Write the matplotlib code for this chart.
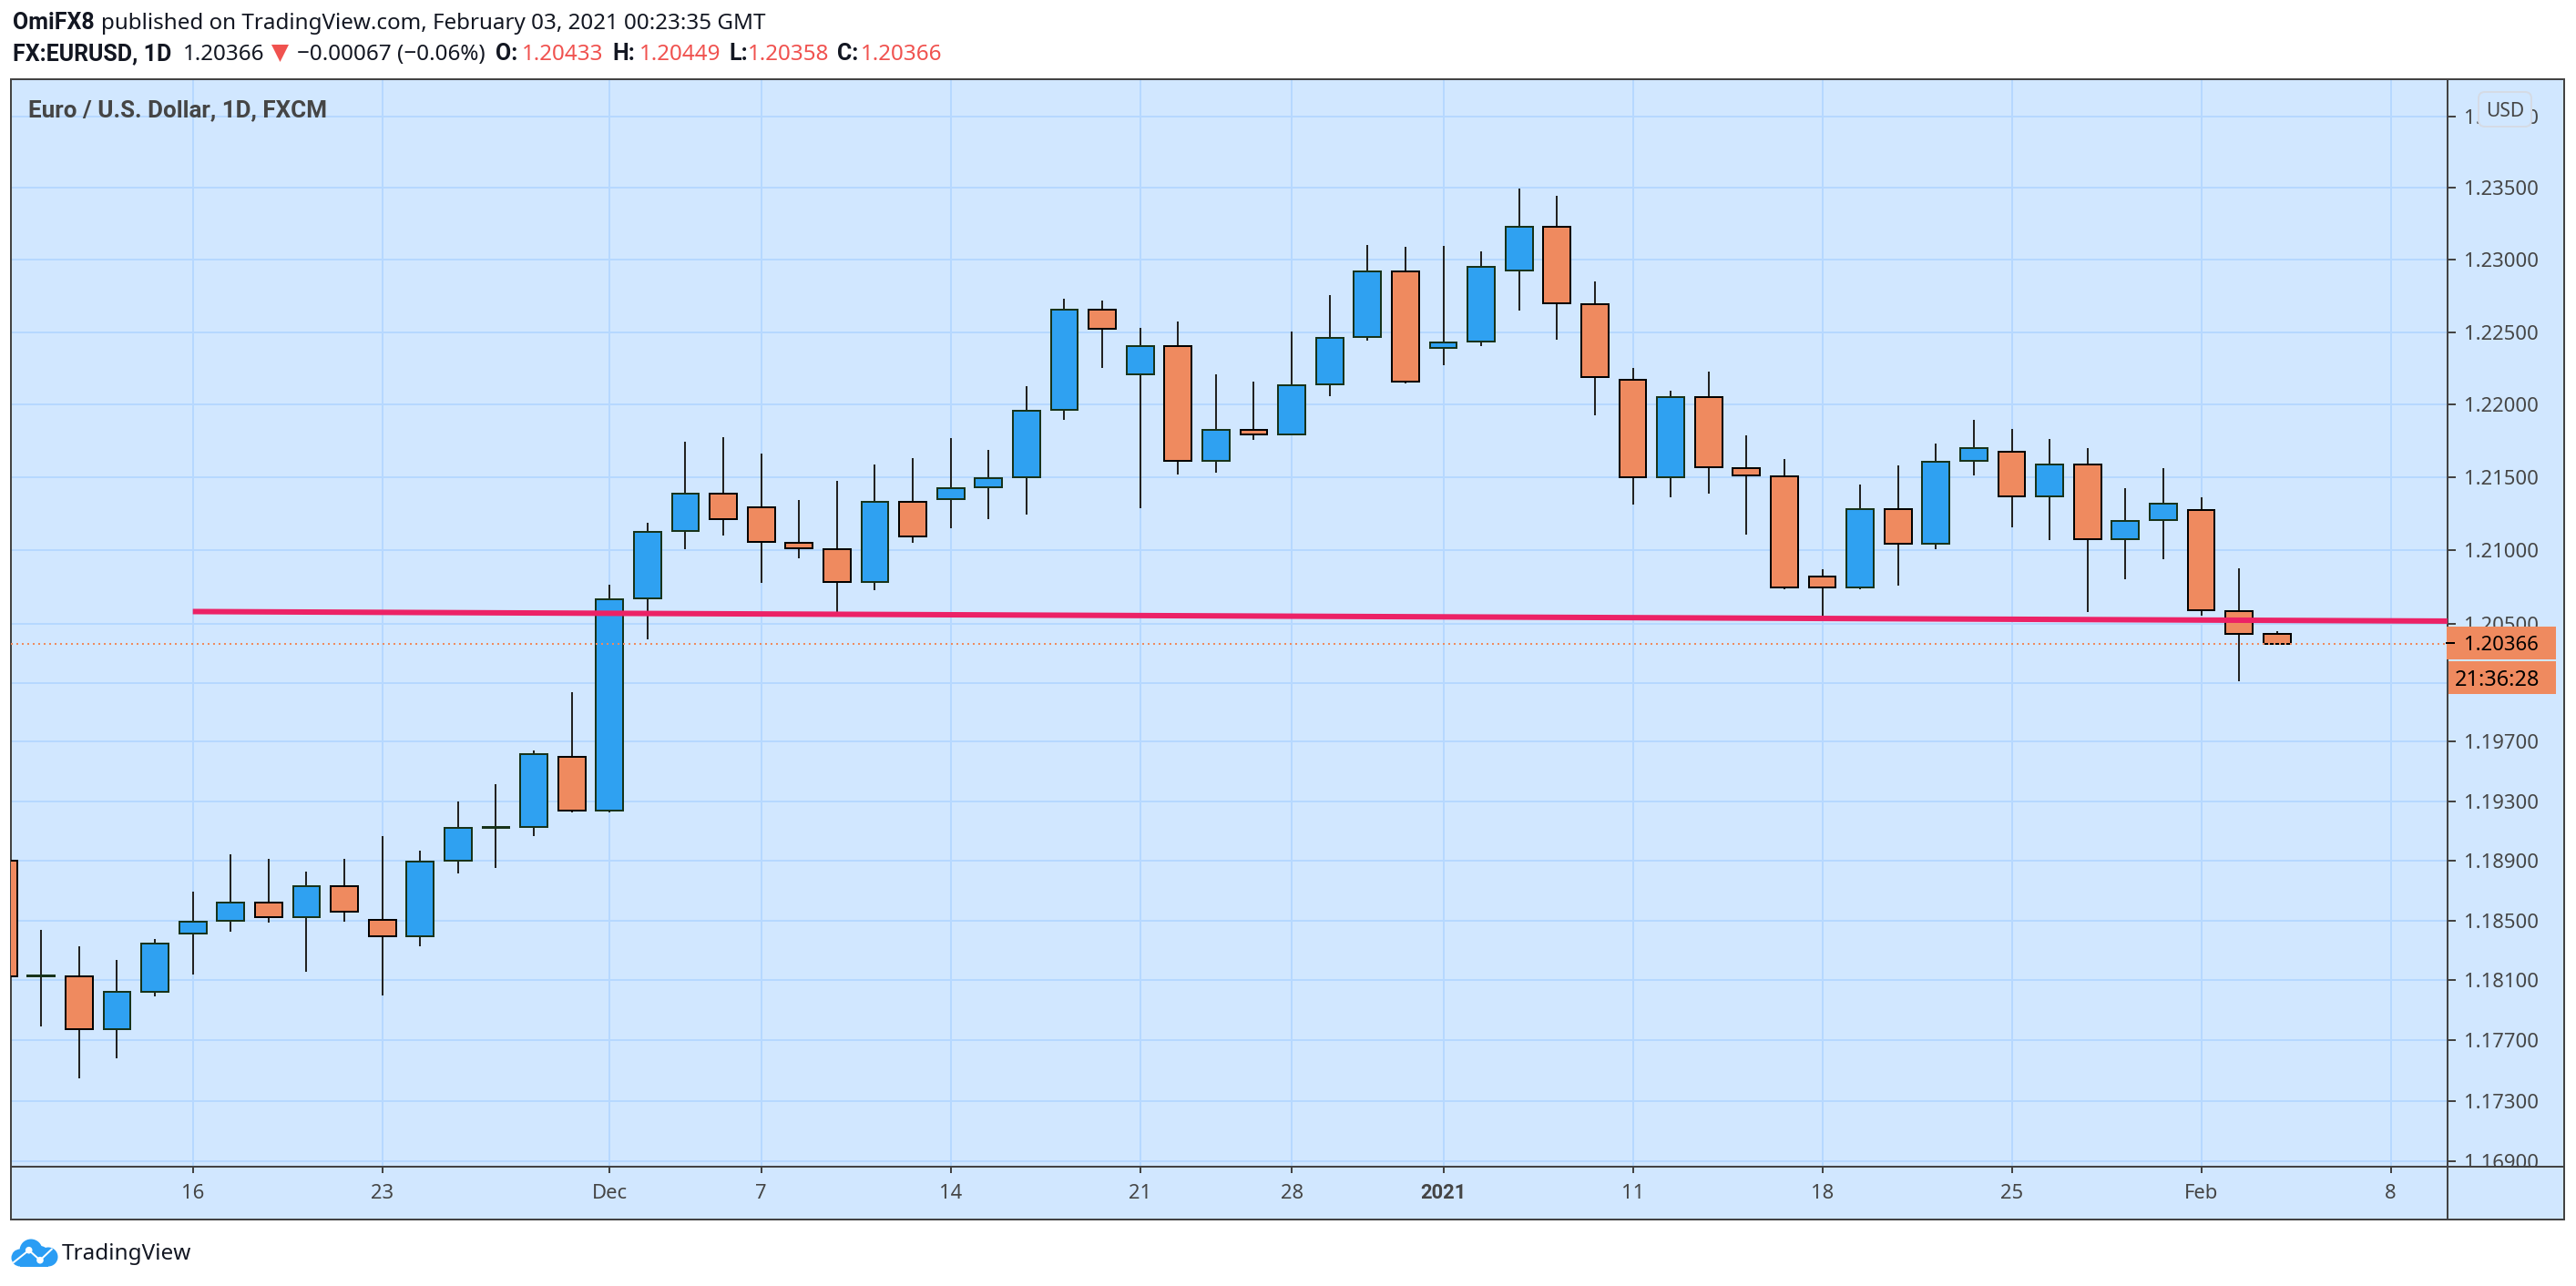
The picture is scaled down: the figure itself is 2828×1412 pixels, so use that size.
import numpy as np
import matplotlib
matplotlib.use("Agg")
import matplotlib.pyplot as plt
from matplotlib.patches import Rectangle, Polygon, Circle, FancyBboxPatch
from matplotlib.lines import Line2D
from matplotlib.transforms import Affine2D

plt.rcParams["font.family"] = ["Noto Sans", "DejaVu Sans"]

# ---------------------------
# Data
# ---------------------------
bar_index = np.arange(-5, 56)

opens = [1.18900, 1.18127, 1.18127, 1.17775, 1.18025, 1.18411, 1.18496, 1.18616, 1.18520, 1.18726,
         1.18505, 1.18392, 1.18900, 1.19122, 1.19124, 1.19601, 1.19235, 1.20671, 1.21131, 1.21390,
         1.21297, 1.21054, 1.21010, 1.20782, 1.21334, 1.21349, 1.21430, 1.21498, 1.21961, 1.22656,
         1.22208, 1.22404, 1.21613, 1.21827, 1.21794, 1.22139, 1.22464, 1.22922, 1.22390, 1.22434,
         1.22924, 1.23232, 1.22695, 1.22172, 1.21500, 1.22053, 1.21564, 1.21508, 1.20824, 1.20746,
         1.21284, 1.21044, 1.21611, 1.21677, 1.21368, 1.21590, 1.21077, 1.21206, 1.21278, 1.20588,
         1.20433]
highs = [1.18900, 1.18437, 1.18328, 1.18237, 1.18376, 1.18693, 1.18943, 1.18912, 1.18827, 1.18912,
         1.19066, 1.18967, 1.19298, 1.19414, 1.19642, 1.20036, 1.20766, 1.21189, 1.21744, 1.21775,
         1.21663, 1.21345, 1.21475, 1.21588, 1.21631, 1.21769, 1.21688, 1.22127, 1.22730, 1.22718,
         1.22528, 1.22573, 1.22208, 1.22158, 1.22503, 1.22756, 1.23103, 1.23090, 1.23097, 1.23059,
         1.23496, 1.23445, 1.22850, 1.22252, 1.22095, 1.22227, 1.21788, 1.21625, 1.20870, 1.21450,
         1.21581, 1.21732, 1.21894, 1.21832, 1.21763, 1.21700, 1.21425, 1.21563, 1.21363, 1.20880,
         1.20449]
lows = [1.18127, 1.17793, 1.17449, 1.17582, 1.17993, 1.18139, 1.18425, 1.18485, 1.18157, 1.18491,
        1.17999, 1.18328, 1.18814, 1.18851, 1.19065, 1.19224, 1.19224, 1.20394, 1.21008, 1.21103,
        1.20779, 1.20946, 1.20574, 1.20729, 1.21052, 1.21151, 1.21214, 1.21245, 1.21894, 1.22252,
        1.21288, 1.21519, 1.21531, 1.21757, 1.21794, 1.22057, 1.22440, 1.22145, 1.22271, 1.22403,
        1.22648, 1.22446, 1.21925, 1.21313, 1.21363, 1.21388, 1.21108, 1.20737, 1.20549, 1.20737,
        1.20760, 1.21008, 1.21513, 1.21158, 1.21070, 1.20579, 1.20803, 1.20940, 1.20555, 1.20110,
        1.20358]
closes = [1.18127, 1.18130, 1.17775, 1.18025, 1.18347, 1.18493, 1.18616, 1.18520, 1.18726, 1.18557,
          1.18392, 1.18896, 1.19117, 1.19124, 1.19619, 1.19235, 1.20669, 1.21128, 1.21390, 1.21212,
          1.21058, 1.21012, 1.20782, 1.21334, 1.21093, 1.21427, 1.21496, 1.21959, 1.22656, 1.22520,
          1.22404, 1.21613, 1.21827, 1.21792, 1.22134, 1.22461, 1.22922, 1.22158, 1.22430, 1.22953,
          1.23232, 1.22697, 1.22187, 1.21500, 1.22053, 1.21569, 1.21511, 1.20746, 1.20746, 1.21284,
          1.21044, 1.21608, 1.21702, 1.21368, 1.21590, 1.21077, 1.21203, 1.21320, 1.20590, 1.20429,
          1.20366]

date_ticks = [0, 5, 11, 15, 20, 25, 29, 33, 38, 43, 48, 53, 58]
date_labels = ["16", "23", "Dec", "7", "14", "21", "28", "2021", "11", "18", "25", "Feb", "8"]

price_ticks = [1.24, 1.235, 1.23, 1.225, 1.22, 1.215, 1.21, 1.205, 1.201,
               1.197, 1.193, 1.189, 1.185, 1.181, 1.177, 1.173, 1.169]

trend_x = [0, 59.5]
trend_y = [1.20583, 1.20518]
last_price = 1.20366

# ---------------------------
# Colours
# ---------------------------
PANEL = "#d1e7ff"
GRID = "#b6d8ff"
BORDER = "#434343"
UP = "#2fa1f1"
UP_EDGE = "#17331a"
DOWN = "#ef8a5f"
DOWN_EDGE = "#000000"
WICK = "#222222"
TREND = "#ec2266"
INK = "#131722"
MUTED = "#454545"
RED = "#f0524f"

W, H = 2828, 1412
PX = 0.72  # points per pixel at dpi 100
HEAD = 24.2 * PX
HEAD_BOLD = 25 * PX
BOLD_FONT = ["Roboto", "DejaVu Sans"]

fig = plt.figure(figsize=(W / 100, H / 100), dpi=100, facecolor="white")
px = Affine2D().scale(1, -1).translate(0, H)  # pixel coords, y down


def pixel_axes(left, top, right, bottom, **kw):
    return fig.add_axes([left / W, 1 - bottom / H, (right - left) / W, (bottom - top) / H], **kw)


def label(x, y, s, size, color=INK, bold=False, ha="left", va="baseline", z=6):
    fig.text(x, y, s, transform=px, fontsize=size, color=color,
             fontweight="bold" if bold else "normal",
             family=BOLD_FONT if bold else ["Noto Sans", "DejaVu Sans"],
             ha=ha, va=va, zorder=z)


# outer panel
fig.add_artist(Rectangle((12.3, 87.3), 2815 - 12.3, 1339 - 87.3, transform=px, facecolor=PANEL,
                         edgecolor=BORDER, linewidth=2 * PX, zorder=-1))

# ---------------------------
# Price pane
# ---------------------------
ax = pixel_axes(12.3, 87.3, 2686.7, 1280.7, zorder=1)
ax.set_facecolor(PANEL)
ax.set_yscale("log")
ax.set_xlim(-4.793, 59.495)
ax.set_ylim(1.16866, 1.24258)

ax.set_yticks(price_ticks)
ax.set_yticklabels(["%.5f" % p for p in price_ticks])
ax.minorticks_off()
ax.yaxis.tick_right()
ax.tick_params(axis="y", length=9 * PX, width=2 * PX, color=BORDER, pad=9 * PX,
               labelsize=22 * PX, labelcolor=MUTED)
ax.set_xticks(date_ticks)
ax.tick_params(axis="x", length=0, labelbottom=False)
ax.grid(True, color=GRID, linewidth=2 * PX)
ax.set_axisbelow(True)
for spine in ax.spines.values():
    spine.set_color(BORDER)
    spine.set_linewidth(2 * PX)

# candles
for i, o, h, l, c in zip(bar_index, opens, highs, lows, closes):
    up = c > o
    ax.vlines(i, l, h, color=WICK, linewidth=2 * PX, zorder=3)
    ax.bar(i, abs(c - o), bottom=min(o, c), width=0.72, color=UP if up else DOWN,
           edgecolor=UP_EDGE if up else DOWN_EDGE, linewidth=2 * PX, zorder=4)

ax.axhline(last_price, color=DOWN, linewidth=2 * PX, linestyle=(0, (1, 2)), zorder=5)
ax.plot(trend_x, trend_y, color=TREND, linewidth=6 * PX, solid_capstyle="butt", zorder=6)

# ---------------------------
# Time axis strip
# ---------------------------
ax_time = pixel_axes(12.3, 1280.7, 2686.7, 1339, zorder=3)
ax_time.set_facecolor(PANEL)
ax_time.set_xlim(ax.get_xlim())
ax_time.set_yticks([])
ax_time.set_xticks(date_ticks)
ax_time.set_xticklabels(date_labels)
ax_time.tick_params(axis="x", top=True, bottom=False, labeltop=True, labelbottom=False,
                    direction="in", length=7 * PX, width=2 * PX, color=BORDER,
                    pad=-40 * PX, labelsize=22 * PX, labelcolor=MUTED)
for t in ax_time.get_xticklabels():
    if t.get_text() == "2021":
        t.set_fontweight("bold")
        t.set_family(BOLD_FONT)
for spine in ax_time.spines.values():
    spine.set_color(BORDER)
    spine.set_linewidth(2 * PX)

fig.add_artist(Rectangle((2686.7, 1280.7), 2815 - 2686.7, 1339 - 1280.7, transform=px,
                         facecolor=PANEL, edgecolor=BORDER, linewidth=2 * PX, zorder=3))

# ---------------------------
# Price scale overlays
# ---------------------------
fig.add_artist(Rectangle((2685.7, 688), 120.3, 36, transform=px, facecolor=DOWN,
                         edgecolor="none", zorder=4))
fig.add_artist(Rectangle((2688, 726), 118, 36, transform=px, facecolor=DOWN,
                         edgecolor="none", zorder=4))
fig.add_artist(Line2D([2686, 2694], [706, 706], transform=px, color="black", linewidth=2 * PX, zorder=5))
label(2746, 706, "1.20366", 22 * PX, color="black", ha="center", va="center_baseline")
label(2742, 744, "21:36:28", 23.5 * PX, color="black", ha="center", va="center_baseline")

fig.add_artist(FancyBboxPatch((2726, 106), 48, 28, boxstyle="round,pad=5,rounding_size=7", transform=px,
                              facecolor=PANEL, edgecolor="#d5dbe5", linewidth=2 * PX, zorder=4))
label(2750, 120, "USD", 21 * PX, color=MUTED, ha="center", va="center_baseline")

# ---------------------------
# Header and pane title
# ---------------------------
label(14, 32, "OmiFX8", HEAD_BOLD, bold=True)
label(111, 32, "published on TradingView.com, February 03, 2021 00:23:35 GMT", HEAD)

label(14, 66, "FX:EURUSD, 1D", HEAD_BOLD, bold=True)
label(201, 66, "1.20366", HEAD)
fig.add_artist(Polygon([(298, 49), (317, 49), (307.5, 68)], closed=True, transform=px,
                       facecolor=RED, edgecolor="none", zorder=6))
label(326, 66, "\u22120.00067 (\u22120.06%)", HEAD)
label(544, 66, "O:", HEAD_BOLD, bold=True)
label(573, 66, "1.20433", HEAD, color=RED)
label(672, 66, "H:", HEAD_BOLD, bold=True)
label(702, 66, "1.20449", HEAD, color=RED)
label(800, 66, "L:", HEAD_BOLD, bold=True)
label(821, 66, "1.20358", HEAD, color=RED)
label(919, 66, "C:", HEAD_BOLD, bold=True)
label(945, 66, "1.20366", HEAD, color=RED)

label(31, 128, "Euro / U.S. Dollar, 1D, FXCM", 26 * PX, color=MUTED, bold=True)

# ---------------------------
# Logo
# ---------------------------
LOGO = "#2a9df4"
for cx, cy, r in [(34, 1373, 12.5), (22, 1381, 9.5), (53, 1380, 10.5), (44, 1378, 10)]:
    fig.add_artist(Circle((cx, cy), r, transform=px, facecolor=LOGO, edgecolor="none", zorder=6))
fig.add_artist(Rectangle((22, 1378), 31, 12.7, transform=px, facecolor=LOGO, edgecolor="none", zorder=6))
fig.add_artist(Line2D([15, 31.7, 44, 56.7], [1386, 1372.7, 1383.7, 1371.7], transform=px,
                      color="white", linewidth=2 * PX, zorder=7))
for cx, cy in [(31.7, 1372.7), (44, 1383.7)]:
    fig.add_artist(Circle((cx, cy), 3.8, transform=px, facecolor="white", edgecolor="none", zorder=7))
label(68, 1383, "TradingView", 24.3 * PX)

fig.savefig("out.png", dpi=100, facecolor="white")
